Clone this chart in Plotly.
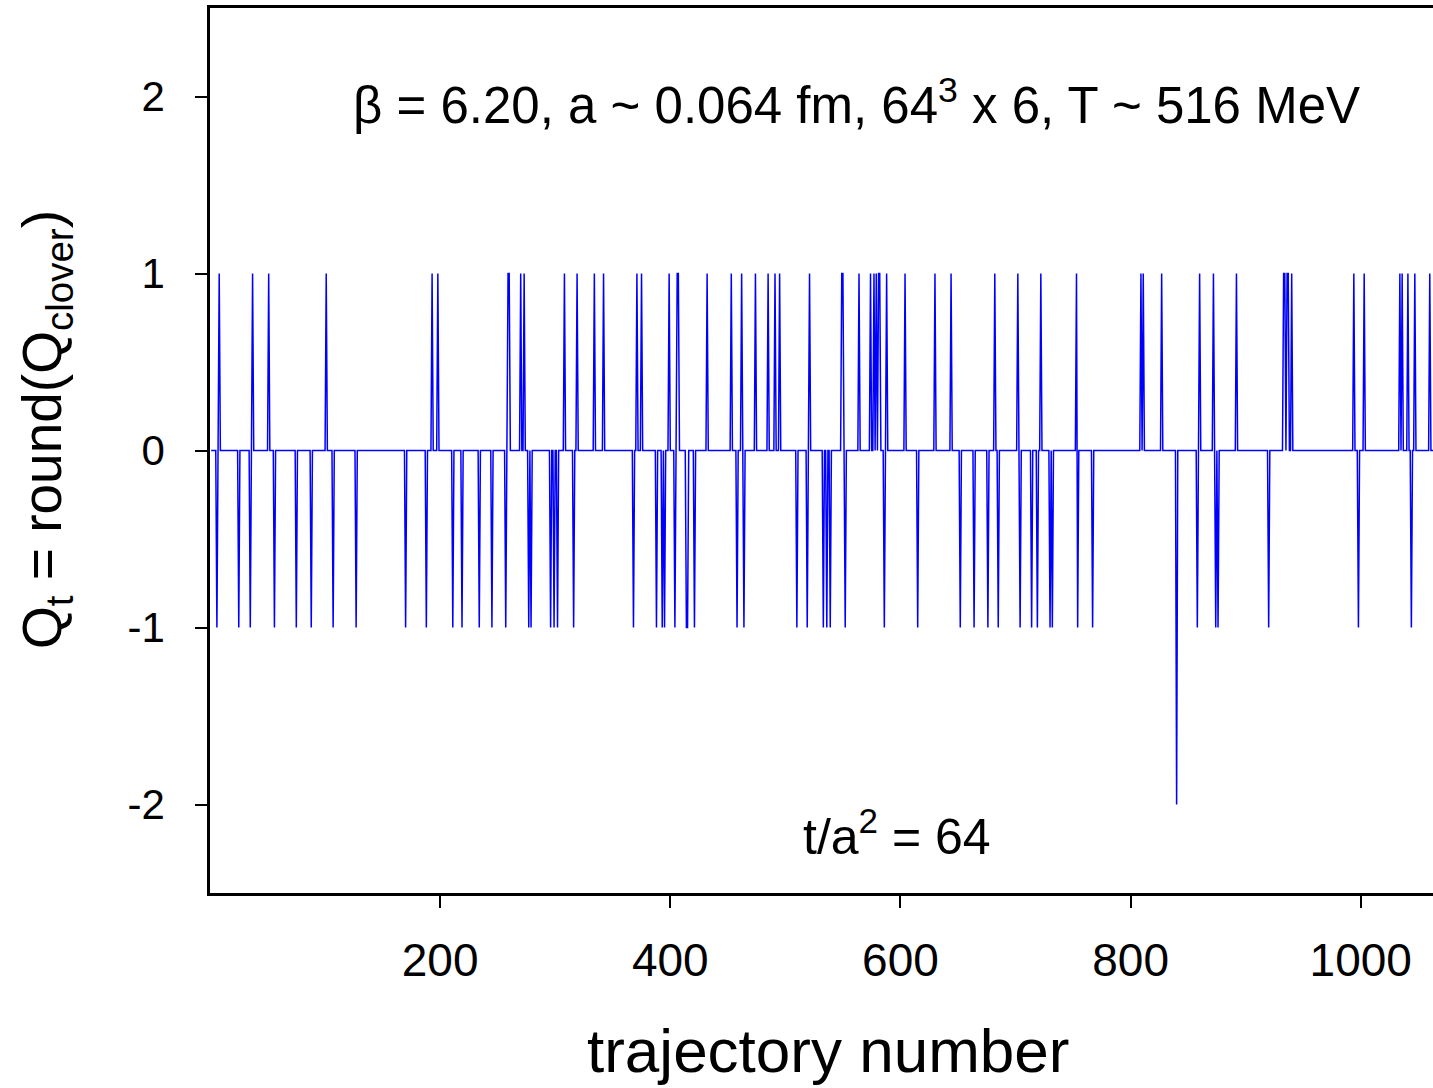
import plotly.graph_objects as go

# ---- data ----
traj_first = 1
traj_last = 1070
up_traj = [8, 37, 51, 101, 193, 198, 259, 260, 270, 273, 308, 319, 334, 342, 371, 375,
           399, 406, 407, 432, 453, 462, 474, 485, 491, 495, 521, 549, 550, 564, 574,
           577, 579, 581, 582, 588, 604, 630, 644, 682, 702, 722, 753, 809, 811, 827,
           860, 872, 892, 933, 934, 936, 937, 940, 994, 1003, 1034, 1036, 1041, 1047, 1060]
down_traj = [6, 25, 35, 56, 75, 88, 107, 127, 170, 188, 211, 219, 234, 245, 257, 277, 279,
             296, 299, 302, 316, 368, 388, 393, 395, 404, 414, 415, 421, 458, 464, 510,
             519, 533, 536, 539, 552, 586, 615, 652, 664, 676, 685, 704, 714, 719, 730,
             732, 754, 767, 858, 874, 876, 920, 998, 1044]
minus2_traj = [840]
y_ticks = [-2, -1, 0, 1, 2]
y_tick_labels = ["-2", "-1", "0", "1", "2"]
x_ticks = [200, 400, 600, 800, 1000]
x_tick_labels = ["200", "400", "600", "800", "1000"]

traj = list(range(traj_first, traj_last + 1))
q = []
for t in traj:
    if t in up_traj:
        q.append(1)
    elif t in down_traj:
        q.append(-1)
    elif t in minus2_traj:
        q.append(-2)
    else:
        q.append(0)

fig = go.Figure()
fig.add_trace(go.Scatter(x=traj, y=q, mode="lines",
                         line=dict(color="#0000FF", width=1.5), showlegend=False))

font = "Liberation Sans, Arial, sans-serif"
L, R, T, B = 210, 0, 8, 195
W, H = 1433, 1088
pw, ph = W - L - R, H - T - B


def px_to_paper(px, py):
    return (px - L) / pw, ((H - py) - B) / ph


xt_x, xt_y = px_to_paper(828, 1050)
yt_x, yt_y = px_to_paper(46, 430)

fig.update_layout(
    width=W, height=H,
    margin=dict(l=L, r=R, t=T, b=B),
    paper_bgcolor="white", plot_bgcolor="white",
    font=dict(family=font, color="black"),
    xaxis=dict(range=[0, 1062.8], tickvals=x_ticks, ticktext=x_tick_labels,
               showgrid=False, zeroline=False,
               showline=True, linecolor="black", linewidth=2.5, mirror=True,
               ticks="outside", ticklen=12, tickwidth=2, tickcolor="black",
               tickfont=dict(size=46, family=font), ticklabelstandoff=13),
    yaxis=dict(range=[-2.5, 2.5], tickvals=y_ticks, ticktext=y_tick_labels,
               showgrid=False, zeroline=False,
               showline=True, linecolor="black", linewidth=2.5, mirror=False,
               ticks="outside", ticklen=12, tickwidth=2, tickcolor="black",
               tickfont=dict(size=42, family=font), ticklabelstandoff=22),
    annotations=[
        dict(text="β = 6.20, a ~ 0.064 fm, 64<sup>3</sup> x 6, T ~ 516 MeV",
             x=561.5, y=1.97, xref="x", yref="y", showarrow=False,
             xanchor="center", yanchor="middle",
             font=dict(size=51, family=font)),
        dict(text="t/a<sup>2</sup> = 64", x=597, y=-2.16, xref="x", yref="y",
             showarrow=False, xanchor="center", yanchor="middle",
             font=dict(size=50, family=font)),
        dict(text="trajectory number", x=xt_x, y=xt_y, xref="paper", yref="paper",
             showarrow=False, xanchor="center", yanchor="middle",
             font=dict(size=62, family=font)),
        dict(text="Q<sub>t</sub> = round(Q<sub>clover</sub>)", x=yt_x, y=yt_y,
             xref="paper", yref="paper", textangle=-90, showarrow=False,
             xanchor="center", yanchor="middle",
             font=dict(size=55, family=font)),
    ],
)

fig.write_html("out.html")
